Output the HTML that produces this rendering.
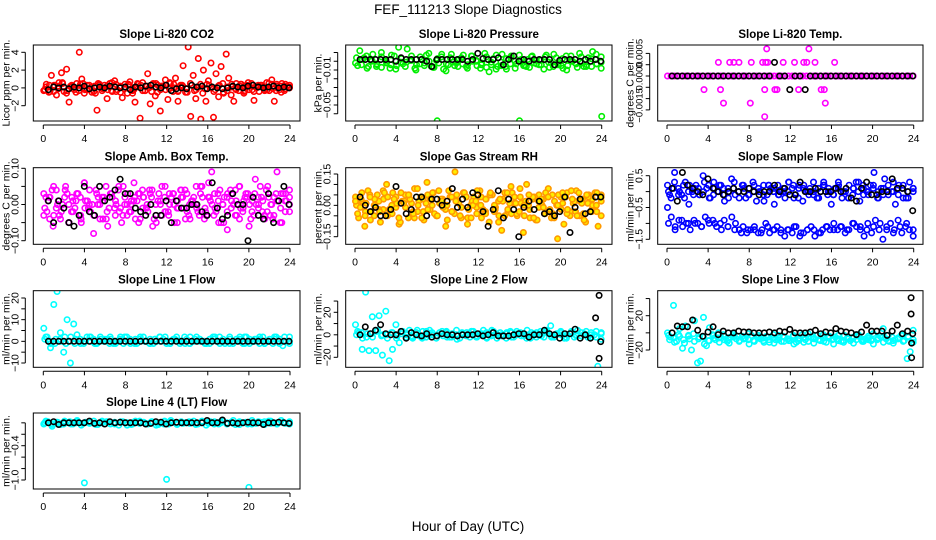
<!DOCTYPE html>
<html><head><meta charset="utf-8"><style>
html,body{margin:0;padding:0;background:#fff;}
svg{display:block;font-family:"Liberation Sans",Arial,sans-serif;}
</style></head><body>
<svg id="chart" width="936" height="540" viewBox="0 0 936 540" xmlns="http://www.w3.org/2000/svg">
<rect width="936" height="540" fill="#fff"/>
<text x="468" y="14" text-anchor="middle" font-size="13.5">FEF_111213  Slope Diagnostics</text>
<text x="468" y="531" text-anchor="middle" font-size="13.5">Hour of Day (UTC)</text>
</svg>
<script>
// ---------- data ----------
const xTicks = [0,4,8,12,16,20,24];

const co2Band = [-0.3,0.4,-0.5,1.4,0.2,-0.8,0.6,1.7,-0.4,2.1,-1.6,0.3,-0.2,0.5,4.0,1.0,-0.6,0.3,-0.1,-0.5,0.2,-2.5,0.4,-0.3,0.3,-1.2,0.5,-0.4,0.8,-0.2,0.1,-1.1,0.4,-0.6,0.7,-0.3,-1.6,0.5,-3.4,0.6,-0.3,1.6,-1.8,0.4,-0.9,0.3,-2.6,0.2,0.9,-1.3,0.5,-0.4,1.1,-1.5,0.3,2.5,-0.5,4.6,-3.2,1.4,-1.2,3.3,-3.5,2.0,-1.5,0.8,2.8,-3.3,1.6,-1.0,2.4,-0.6,3.8,1.1,-0.8,-1.5,0.5,-0.3,0.4,-0.6,0.3,-0.2,0.5,-1.4,0.2,-0.4,0.3,-0.2,0.6,-0.3,0.9,-1.5,0.4,-0.2,0.5,-0.3,0.2,0.1];
const co2Band2 = [-0.2,0.3,-0.4,0.2,0.5,-0.3,0.1,-0.5,0.4,-0.2,0.3,-0.4,0.5,-0.1,0.2,-0.3,0.4,-0.5,0.1,0.3,-0.2,0.4,-0.3,0.2,-0.4,0.5,-0.2,0.3,-0.1,0.4,-0.3,0.2,-0.5,0.3,-0.2,0.4,-0.1,0.3,-0.4,0.2,0.5,-0.3,0.1,-0.2,0.4,-0.3,0.2,-0.4,0.3,0.1,-0.2,0.4,-0.3,0.2,-0.1,0.3];
const co2Band3 = [0.1,-0.4,0.3,-0.1,0.6,-0.6,0.2,0.0,-0.3,0.5,-0.2,0.1,-0.6,0.3,0.0,-0.2,0.6,-0.4,0.2,-0.1,0.4,-0.6,0.1,0.3,-0.3,0.0,0.5,-0.5,0.2,-0.2,0.6,0.0,-0.4,0.3,-0.1,0.5,-0.3,0.1,-0.6,0.4,0.0,-0.2,0.3,-0.5,0.1,0.4,-0.1,0.2,-0.4,0.6,-0.2,0.0,0.3,-0.3,0.5,-0.1,0.2,-0.5,0.4,0.0];
const co2Black = [-0.2,0.1,0,0.1,-0.1,0.1,0,0.2,-0.1,0,0.1,0,0.2,0.1,0,0.1,-0.2,0.1,0,0.2,0.3,0.1,0,0.3,-0.3,-0.1,0,-0.1,0.3,0.1,0.2,-0.1,0.1,0,-0.1,0,0.2,0.1,0,0.2,0.3,0.1,0,0.1,0.2,0,0.1,0];

const presBand = [-0.002,0.012,0.004,-0.006,0.008,-0.004,0.01,0.002,-0.008,0.006,0.016,-0.003,0.014,0.001,-0.01,0.005,-0.002,0.009,-0.007,0.003,0.008,-0.011,0.004,-0.005,0.002,0.007,-0.004,0.006,0.001,-0.008,0.009,-0.012,0.003,-0.006,0.008,-0.009,0.004,0.0,0.007,-0.005,0.002,0.006,-0.003,0.001,0.005,-0.007,0.008,-0.004,0.003,-0.01,0.006,-0.002,0.009,-0.006,0.004,0.011,-0.003,0.005];
const presBand2 = [0.004,-0.004,0.006,0.0,-0.006,0.005,-0.002,0.007,-0.005,0.003,-0.001,0.006,-0.004,0.002,0.007,-0.006,0.001,0.005,-0.003,0.008,-0.002,0.004,-0.006,0.006,0.0,-0.004,0.005,-0.001,0.007,-0.005,0.003,0.006,-0.003,0.002,-0.006,0.005,0.001,-0.004,0.007,-0.002,0.004,-0.005,0.006,0.0,-0.003,0.005,-0.006,0.003,0.008,-0.001];
const presBand3 = [-0.005,0.002,-0.008,0.001,-0.003,-0.007,0.0,-0.004,-0.009,-0.001,-0.006,0.001,-0.008,-0.003,-0.005,0.0,-0.007,-0.002,-0.009,-0.004,-0.001,-0.006,-0.003,-0.008,0.0,-0.005,-0.002,-0.007,-0.004,-0.009,-0.001,-0.006,-0.003,-0.008,0.0,-0.005,-0.007,-0.002,-0.004,-0.009,-0.001,-0.006,-0.003,-0.008,-0.005,0.0,-0.007,-0.002,-0.004,-0.006,-0.003,-0.008];
const presBlack = [0.002,0.002,0.002,0.002,0.002,0.002,0.002,0.0,0.004,0.002,0.002,0.002,0.002,0.0,-0.006,0.002,0.002,0.002,0.002,0.002,0.002,0.0,0.002,0.009,0.003,0.002,0.002,0.004,-0.004,0.002,0.006,0.0,0.002,0.0,0.002,0.002,0.002,0.002,-0.004,0.001,0.002,0.002,0.002,0.0,0.002,0.0,0.002,0.0];
const presOutH = [8,16,24];
const presOutV = [-0.068,-0.068,-0.063];

const tempBand = [0,0,0,0,0,0,0,0,0,0,0,0,0,0,0,0,0,0,0,0,0,0,0,0,0,0,0,0,0,0,0,0,0,0,0,0,0,0,0,0,0,0,0,0,0,0,0,0,0,0,0,0,0,0,0,0,0,0,0,0,0,0,0,0,0,0,0,0,0,0];
const tempOutH = [3.6,5.0,5.2,5.5,6.1,6.5,7.0,8.1,8.2,9.3,9.5,9.5,9.6,9.7,9.8,10.5,10.7,11.3,12.4,12.8,13.3,13.6,13.8,14.4,15.0,15.3,15.4,16.3];
const tempOutV = [-0.0006,0.0006,-0.0006,-0.0012,0.0006,0.0006,0.0006,-0.0012,0.0006,0.0006,-0.0006,-0.0018,0.0006,0.0012,0.0006,-0.0006,-0.0006,0.0006,0.0006,-0.0006,0.0006,0.0006,0.0012,0.0006,-0.0006,-0.0006,-0.0012,0.0006];
const tempBlack = [0,0,0,0,0,0,0,0,0,0,0,0,0,0,0,0,0,0,0,0,0.0006,0,0,-0.0006,0,0,-0.0006,0,0,0,0,0,0,0,0,0,0,0,0,0,0,0,0,0,0,0,0,0];

const ambBand = [0.03,-0.02,0.02,-0.06,0.04,-0.03,0.0,0.05,-0.05,0.02,-0.01,0.03,-0.04,0.06,0.01,-0.02,-0.08,0.03,0.0,-0.04,0.05,-0.01,0.02,-0.03,0.04,-0.05,0.0,0.03,-0.02,0.06,0.01,-0.04,0.02,-0.01,0.04,-0.06,0.0,0.03,-0.03,0.05,-0.02,0.02,-0.05,0.01,0.04,-0.01,0.03,-0.04,0.0,0.05,-0.03,0.02,-0.02,0.06,0.09,-0.01,0.03,-0.05,0.02,-0.07,0.04,0.0,-0.03,0.05,-0.02,0.03,-0.06,0.01,0.07,-0.01,0.02,-0.04,0.05,0.0,-0.03,0.09,-0.05,0.03,0.01,-0.02];
const ambBand2 = [-0.01,0.02,-0.03,0.01,0.0,0.03,-0.02,0.01,0.02,-0.01,0.0,-0.03,0.02,0.01,-0.02,0.03,0.0,-0.01,0.02,-0.02,0.01,0.03,-0.01,0.0,0.02,-0.03,0.01,-0.02,0.03,0.0,-0.01,0.02,-0.02,0.01,0.0,0.03,-0.01,0.02,-0.03,0.01,0.0,-0.02,0.03,0.01,-0.01,0.02,0.0,-0.03,0.02,0.01,-0.02,0.0,0.03,-0.01,0.01,0.02];
const ambBand3 = [0.02,-0.04,0.05,0.0,-0.02,0.04,-0.05,0.01,0.03,-0.03,0.06,-0.01,0.0,0.04,-0.04,0.02,-0.06,0.03,0.01,-0.02,0.05,-0.03,0.0,0.02,-0.05,0.04,-0.01,0.03,-0.04,0.01,0.05,-0.02,0.0,0.03,-0.05,0.02,0.04,-0.03,0.01,-0.01,0.05,-0.04,0.02,0.0,-0.02,0.04,-0.05,0.03,0.01,-0.03,0.05,-0.01,0.02,-0.04,0.03,0.0,-0.02,0.04,-0.03,0.02,0.01,-0.05,0.03,0.0];
const ambBand4 = [-0.03,0.01,0.04,-0.01,-0.04,0.02,0.0,-0.02,0.03,-0.05,0.01,0.04,-0.03,0.0,0.02,-0.04,0.03,-0.01,0.05,-0.03,0.0,0.01,-0.04,0.03,0.02,-0.02,0.04,-0.05,0.0,0.02,-0.03,0.03,-0.01,0.04,-0.04,0.0,0.02,-0.02,0.05,-0.03,0.01,0.03,-0.05,0.0,0.02,-0.01,0.04,-0.04,0.01,0.03,-0.02,0.0,0.05,-0.03,0.02,-0.04,0.01,0.03,-0.02,0.04];
const ambBlack = [0.01,-0.05,0.01,-0.01,-0.05,-0.06,-0.03,0.05,-0.02,-0.03,0.05,0.01,0.02,0.04,0.07,0.03,0.03,-0.01,-0.02,-0.03,0.0,-0.03,-0.03,0.01,-0.05,0.01,-0.01,-0.01,0.0,0.0,-0.02,-0.03,0.06,-0.01,-0.04,-0.03,0.03,0.0,0.0,-0.1,0.02,-0.03,-0.04,0.03,-0.05,0.01,0.05,0.0];

const rhBand = [0.04,-0.06,0.02,-0.1,0.07,-0.03,0.0,0.05,-0.08,0.03,0.1,-0.04,0.06,-0.01,-0.09,0.02,0.05,-0.06,0.01,0.08,-0.03,0.04,-0.07,0.11,-0.02,0.06,-0.05,0.01,0.03,-0.1,0.07,-0.03,0.16,0.02,-0.06,0.05,-0.09,0.0,0.04,-0.04,0.07,-0.02,0.03,-0.08,0.05,-0.01,0.02,-0.12,0.06,-0.03,0.09,0.01,-0.05,0.04,-0.13,0.1,-0.02,0.03,-0.07,0.05,0.0,-0.04,0.08,-0.06,0.02,-0.16,0.04,-0.09,0.06,-0.03,0.01,0.07,-0.05,0.03,-0.08,0.05,-0.02,0.06,-0.1,0.02];
const rhBand2 = [0.0,0.03,-0.03,0.05,-0.05,0.02,-0.02,0.04,-0.04,0.01,0.06,-0.01,0.03,-0.06,0.02,-0.03,0.05,0.0,-0.05,0.03,-0.02,0.04,-0.04,0.01,0.06,-0.06,0.02,-0.01,0.04,-0.03,0.05,0.0,-0.05,0.03,-0.02,0.06,-0.04,0.01,0.02,-0.06,0.04,-0.01,0.03,-0.03,0.05,0.0,-0.02,0.04,-0.05,0.02,0.06,-0.04,0.01,0.03,-0.03,0.05];
const rhBand3 = [-0.04,0.06,0.01,-0.07,0.03,-0.02,0.07,-0.05,0.0,0.04,-0.08,0.02,0.05,-0.03,0.08,-0.06,0.01,0.03,-0.04,0.07,-0.01,-0.07,0.04,0.02,-0.05,0.06,-0.02,0.0,0.07,-0.06,0.03,0.05,-0.03,-0.08,0.02,0.06,-0.04,0.01,0.08,-0.05,0.0,0.04,-0.07,0.03,0.06,-0.02,-0.06,0.05,0.01,-0.04,0.07,-0.03,0.02,-0.07,0.04,0.0,0.06,-0.05];
const rhBand4 = [0.02,-0.01,-0.05,0.04,0.0,-0.03,0.06,-0.02,0.03,-0.06,0.01,0.05,-0.04,0.0,0.03,-0.02,0.06,-0.05,0.02,0.0,-0.03,0.05,-0.01,0.04,-0.06,0.02,0.0,-0.04,0.06,-0.02,0.03,-0.05,0.01,0.04,-0.03,0.0,0.05,-0.06,0.02,-0.01,0.04,-0.04,0.0,0.06,-0.02,0.03,-0.05,0.01,0.05,-0.03,0.0,0.04];
const rhBlack = [0.04,0.0,-0.03,-0.01,-0.05,-0.05,-0.02,0.09,0.01,-0.04,-0.02,0.04,0.04,-0.05,0.03,0.03,0.0,0.02,0.08,-0.01,0.03,-0.01,0.06,0.05,-0.03,-0.1,-0.02,0.07,-0.06,0.03,-0.02,-0.15,-0.01,0.02,-0.02,0.02,-0.04,-0.03,-0.05,-0.03,0.04,-0.13,-0.01,0.03,-0.04,-0.03,0.04,0.04];

const flowUpper = [0.2,-0.2,0.6,0.1,-0.1,0.3,-0.4,0.0,0.2,-0.1,0.5,0.1,-0.2,0.3,0.0,0.2,-0.3,0.1,0.4,-0.1,0.0,0.2,-0.2,0.1,0.3,-0.3,0.0,0.2,-0.1,0.1,-0.4,0.2,0.0,-0.2,0.3,0.1,-0.1,0.2,-0.3,0.0,0.1,0.3,-0.2,0.0,0.2,-0.1,-0.4,0.1,0.3,-0.2,0.0,0.2,-0.1,0.3,-0.3,0.1,0.0,0.2,0.6,-0.2,0.1,0.4,-0.1,0.0,-0.4,0.2,0.1,-0.2,0.3,0.1];
const flowUpper2 = [0.0,0.1,-0.1,0.2,0.0,-0.1,0.1,0.0,0.2,-0.1,0.0,0.1,-0.2,0.1,0.0,0.2,-0.1,0.0,0.1,-0.1,0.2,0.0,-0.1,0.1,0.0,0.2,-0.2,0.1,0.0,-0.1,0.1,0.2,0.0,-0.1,0.1,0.0,-0.2,0.1,0.0,0.2,-0.1,0.1,0.0,-0.1,0.2,0.0,0.1,-0.2,0.0,0.1];
const flowUpper3 = [-0.1,0.3,0.0,-0.2,0.2,0.1,-0.1,0.3,-0.2,0.1,0.2,-0.1,0.0,0.3,-0.2,0.1,-0.1,0.2,0.0,-0.3,0.2,0.1,-0.1,0.0,0.3,-0.2,0.1,0.2,-0.1,0.0,-0.2,0.3,0.1,-0.1,0.2,0.0,-0.2,0.1,0.3,-0.1,0.0,0.2,-0.2,0.1,0.0,0.3,-0.1,0.2,-0.2,0.0];
const flowLower = [-0.5,-0.8,-1.2,-0.9,-1.1,-1.0,-1.2,-0.9,-1.0,-1.1,-0.8,-1.0,-0.9,-1.1,-1.0,-0.9,-1.1,-0.8,-1.0,-1.2,-1.1,-1.3,-1.2,-1.1,-1.3,-1.2,-1.0,-1.3,-1.2,-1.1,-1.2,-1.4,-1.2,-1.3,-1.1,-1.4,-1.3,-1.2,-1.1,-1.4,-1.3,-1.2,-1.1,-1.2,-1.0,-1.2,-1.1,-1.3,-1.2,-1.0,-1.1,-1.2,-1.4,-1.0,-1.3,-0.9,-1.2,-1.5,-1.1,-1.0,-1.2,-0.9,-1.3,-1.1,-1.2,-1.4];
const flowLower2 = [-1.0,-1.1,-0.9,-1.0,-1.0,-1.1,-0.9,-1.0,-1.2,-1.1,-1.2,-1.3,-1.2,-1.2,-1.3,-1.1,-1.2,-1.3,-1.2,-1.1,-1.3,-1.2,-1.2,-1.3,-1.1,-1.2,-1.1,-1.2,-1.0,-1.1,-1.2,-1.1,-1.0,-1.2,-1.3,-1.1,-1.0,-1.2];
const flowBlack = [0.1,-0.3,0.6,0.2,0.1,0.0,-0.1,0.4,0.1,0.0,-0.1,0.0,0.1,0.0,0.0,0.1,0.0,-0.1,0.0,0.0,0.2,0.0,0.1,-0.1,-0.1,0.3,0.0,0.0,0.1,0.0,0.0,0.0,0.1,0.0,0.1,-0.2,-0.3,0.1,0.3,-0.1,-0.1,0.0,0.0,0.4,0.1,0.1,0.0,-0.6];

const l1Band = [6,2,-3,17,23,4,-5,10,-10,8,3,1,-1,2,0,1,-1,2,0,1,2,-1,0,1,-1,2,1,0,-1,1,2,0,1,-1,0,2,1,-1,0,1,2,-1,0,1,-1,0,2,1,0,-1,1,2,0,-1,1,0,2,-1,1,0,-1,2,1,0,1,-1,2,0,1,-1,2,1,-2,0,2];
const l1Band2 = [1,0,-1,1,2,0,-1,1,0,2,-1,0,1,-1,0,1,2,0,-1,1,0,-1,1,2,0,-1,1,0,2,-1,0,1,0,-1,1,2,0,-1,0,1,2,-1,0,1,-1,0,2,1,0,-1];
const l1Band3 = [2,-1,1,0,-1,2,1,-1,0,2,-1,1,0,1,-1,2,0,-1,1,2,0,-1,1,0,2,-1,1,0,-1,2,1,0,-1,1,2,0,-1,1,0,2,-1,0,1,2,-1,0,1,-1,2,0];
const l1Black = [0,0,0,0,0,0,0,0,0,0,0,0,0,0,0,0,0,0,0,0,0,0,0,0,0,0,0,0,0,0,0,0,0,0,0,0,0,0,0,0,0,0,0,0,0,0,0,0];

const l2Band = [9,2,-13,38,-14,16,-14,17,-18,21,-23,-13,9,-7,3,-2,4,-3,2,-1,3,-2,4,0,-3,2,-1,3,-2,1,4,-3,0,2,-2,3,-1,1,4,-2,0,3,-3,2,-1,1,3,-2,0,2,-1,4,-3,1,0,3,-2,2,8,-2,1,3,-3,0,2,-2,4,-1,1,-2,2,0,-28,2];
const l2Band2 = [0,2,-2,1,3,-1,0,2,-3,1,0,-1,2,-2,3,0,-1,1,2,-2,0,1,-1,3,-2,0,2,-1,1,0,-3,2,1,-1,0,2,-2,1,3,-1,0,2,-2,1,0,-1,3,0,-2,1];
const l2Band3 = [3,-3,1,-2,4,0,-3,2,-1,3,1,-2,4,-3,0,2,-1,3,-2,1,-4,2,0,3,-2,1,-3,4,0,-1,2,-2,3,1,-3,0,2,-1,4,-2,1,0,-3,3,-1,2,0,-2,3,-4];
const l2Black = [0,7,1,4,9,1,0,0,3,-3,2,0,-1,1,-2,-1,1,0,0,-1,0,0,0,1,-1,0,2,-1,-1,-1,0,1,1,-2,0,0,4,1,0,-3,1,1,5,-3,0,-3,15,-6];
const l2OutH = [23.75,23.75];
const l2OutV = [35,-21];

const l3Band = [0,-5,32,-10,5,-18,8,-3,-20,14,-35,-33,18,-15,6,-2,-8,0,-6,-4,-10,-5,-2,-7,-9,-4,-6,-8,-3,-10,-5,-7,-9,-4,-11,-6,-8,-3,-10,-5,-7,-9,-4,-11,-6,-2,-8,-10,-5,-7,-3,-9,-6,-11,-4,-8,-5,-7,-10,-3,-6,-9,-5,-8,-4,-10,-7,-6,-9,-3,-8,-4,5,-7,-10,-5,-8,-6,-3,-9,-30,-22,3];
const l3Band2 = [-3,-6,-2,-8,-4,-1,-7,-5,-9,-3,-6,-2,-8,-5,-4,-7,-1,-9,-3,-6,-5,-2,-8,-4,-7,-3,-9,-6,-1,-5,-8,-2,-4,-7,-3,-9,-5,-6,-2,-8,-4,-1,-7,-5,-3,-9,-6,-2,-4,-8];
const l3Band3 = [-8,-11,-4,-12,-7,-10,-5,-13,-9,-6,-11,-8,-12,-4,-10,-7,-13,-9,-5,-11,-8,-12,-6,-10,-9,-13,-7,-11,-5,-12,-8,-10,-6,-13,-9,-11,-7,-12,-4,-10,-8,-13,-6,-11,-9,-12,-7,-10,-5,-11];
const l3Black = [0,8,7,7,15,3,-4,1,7,-2,2,0,0,2,1,1,0,0,0,1,0,2,1,4,0,0,0,1,3,-1,1,0,5,2,1,0,-2,1,9,2,2,2,-3,2,9,-1,2,-1];
const l3OutH = [23.75,23.75,23.8,23.8];
const l3OutV = [41,22,-12,-29];

const l4Band = [-0.02,0.02,-0.06,0.01,-0.03,0.03,0.0,-0.02,0.02,-0.04,0.01,-0.01,0.03,-0.03,0.0,0.02,-0.02,0.01,-0.04,0.02,0.0,-0.03,0.03,-0.01,0.01,-0.02,0.02,-0.04,0.0,0.03,-0.02,0.01,-0.03,0.02,0.0,-0.01,0.03,-0.02,0.01,-0.04,0.02,0.0,-0.02,0.03,-0.01,0.01,-0.03,0.02,0.0,-0.02,0.04,-0.01,0.01,-0.03,0.03,0.0,-0.02,0.04,-0.01,0.02];
const l4Band2 = [0.0,-0.01,0.01,-0.02,0.02,0.0,-0.01,0.01,-0.02,0.0,0.02,-0.01,0.01,0.0,-0.02,0.01,-0.01,0.02,0.0,-0.02,0.01,0.0,-0.01,0.02,-0.01,0.0,0.01,-0.02,0.02,0.0,-0.01,0.01,0.0,-0.02,0.01,0.02,-0.01,0.0,0.01,-0.02];
const l4Band3 = [0.03,-0.03,0.0,0.02,-0.02,0.04,-0.01,0.01,-0.03,0.03,0.0,-0.02,0.02,-0.04,0.01,0.03,-0.01,0.0,-0.03,0.02,0.04,-0.02,0.0,0.01,-0.03,0.03,-0.01,0.02,0.0,-0.02,0.04,-0.03,0.01,0.0,0.02,-0.01,0.03,-0.02,0.0,0.01];
const l4Black = [0.0,0.02,-0.03,0.0,0.0,0.0,0.0,0.0,0.03,-0.01,0.0,-0.02,0.02,0.0,0.01,0.0,0.0,0.0,0.0,-0.02,-0.01,0.02,0.01,-0.02,0.0,0.01,0.0,0.0,0.0,0.0,0.0,0.04,0.0,0.0,0.05,-0.01,0.0,-0.01,0.0,0.01,0.0,0.0,-0.03,0.0,0.0,0.01,0.0,-0.01];
const l4OutH = [4,12,20];
const l4OutV = [-1.05,-0.99,-1.13];

// ---------- layout ----------
const cols = [{bx0:33.3,bx1:300,zero:43.3},{bx0:345.7,bx1:612,zero:355},{bx0:657.7,bx1:923,zero:667}];
const rows = [{y0:45,y1:121},{y0:167.7,y1:244.3},{y0:290.7,y1:367.3},{y0:413,y1:489}];
const HPX = (290-43.3)/24;

const panels = [
 {key:'co2',title:'Slope Li-820 CO2',ylab:'Licor ppm per min.',r:0,c:0,cal:[4,52.3,-2,105.7],ticks:[-2,0,2,4],labs:[[-2,'\u22122'],[0,'0'],[2,'2'],[4,'4']],col:'#ff0000',fill:'none',bands:[co2Band,co2Band2,co2Band3],blk:co2Black},
 {key:'pressure',title:'Slope Li-820 Pressure',ylab:'kPa per min.',r:0,c:1,cal:[-0.01,70,-0.05,105],ticks:[0.01,0,-0.01,-0.02,-0.03,-0.04,-0.05,-0.06],labs:[[-0.01,'\u22120.01'],[-0.05,'\u22120.05']],col:'#00ee00',fill:'none',bands:[presBand,presBand2,presBand3],blk:presBlack,outH:presOutH,outV:presOutV},
 {key:'temp',title:'Slope Li-820 Temp.',ylab:'degrees C per min.',r:0,c:2,cal:[0,76,0.0005,64.7],ticks:[0.001,0.0005,0,-0.0005,-0.001,-0.0015],labs:[[0.001,'0.0005'],[0,'0.0000'],[-0.0013,'\u22120.0015']],col:'#ff00ff',fill:'none',bands:[tempBand],blk:tempBlack,outH:tempOutH,outV:tempOutV},
 {key:'amb',title:'Slope Amb. Box Temp.',ylab:'degrees C per min.',r:1,c:0,cal:[0.1,168.3,-0.1,240.7],ticks:[-0.1,-0.05,0,0.05,0.1],labs:[[-0.1,'\u22120.10'],[0,'0.00'],[0.1,'0.10']],col:'#ff00ff',fill:'none',bands:[ambBand,ambBand2,ambBand3,ambBand4],blk:ambBlack},
 {key:'rh',title:'Slope Gas Stream RH',ylab:'percent per min.',r:1,c:1,cal:[0.15,174,-0.15,236.7],ticks:[-0.15,-0.1,-0.05,0,0.05,0.1,0.15],labs:[[-0.15,'\u22120.15'],[0,'0.00'],[0.15,'0.15']],col:'#ff9900',fill:'#ffee00',bands:[rhBand,rhBand2,rhBand3,rhBand4],blk:rhBlack},
 {key:'sampleflow',title:'Slope Sample Flow',ylab:'ml/min per min.',r:1,c:2,cal:[0.5,175.7,-1.5,239.3],ticks:[-1.5,-1,-0.5,0,0.5],labs:[[-1.5,'\u22121.5'],[-0.5,'\u22120.5'],[0.5,'0.5']],col:'#0000ff',fill:'none',bands:[flowUpper,flowUpper2,flowUpper3,flowLower,flowLower2],blk:flowBlack},
 {key:'line1',title:'Slope Line 1 Flow',ylab:'ml/min per min.',r:2,c:0,cal:[20,298,-10,363],ticks:[-10,-5,0,5,10,15,20],labs:[[-10,'\u221210'],[0,'0'],[10,'10'],[20,'20']],col:'#00ffff',fill:'none',bands:[l1Band,l1Band2,l1Band3],blk:l1Black},
 {key:'line2',title:'Slope Line 2 Flow',ylab:'ml/min per min.',r:2,c:1,cal:[20,312.3,-20,357.3],ticks:[-20,-10,0,10,20,30],labs:[[-20,'\u221220'],[0,'0'],[20,'20']],col:'#00ffff',fill:'none',bands:[l2Band,l2Band2,l2Band3],blk:l2Black,boutH:l2OutH,boutV:l2OutV},
 {key:'line3',title:'Slope Line 3 Flow',ylab:'ml/min per min.',r:2,c:2,cal:[20,315.7,-20,350],ticks:[-20,0,20,40],labs:[[-20,'\u221220'],[20,'20']],col:'#00ffff',fill:'none',bands:[l3Band,l3Band2,l3Band3],blk:l3Black,boutH:l3OutH,boutV:l3OutV},
 {key:'line4',title:'Slope Line 4 (LT) Flow',ylab:'ml/min per min.',r:3,c:0,cal:[-0.4,445.7,-1.0,480],ticks:[0,-0.2,-0.4,-0.6,-0.8,-1.0],labs:[[-0.4,'\u22120.4'],[-1.0,'\u22121.0']],col:'#00ffff',fill:'none',bands:[l4Band,l4Band2,l4Band3],blk:l4Black,outH:l4OutH,outV:l4OutV}
];

const NS='http://www.w3.org/2000/svg';
const svg=document.getElementById('chart');
function mk(tag,attrs,parent){const e=document.createElementNS(NS,tag);for(const k in attrs)e.setAttribute(k,attrs[k]);(parent||svg).appendChild(e);return e;}

panels.forEach(p=>{
  const C=cols[p.c],R=rows[p.r];
  const g=mk('g',{});
  
  
  const [v0,p0,v1,p1]=p.cal;
  const ys=v=>p0+(v-v0)*(p1-p0)/(v1-v0);
  const xs=h=>C.zero+h*HPX;
  const cid='clip-'+p.key;
  const cp=mk('clipPath',{id:cid},g);
  mk('rect',{x:C.bx0,y:R.y0,width:C.bx1-C.bx0,height:R.y1-R.y0},cp);
  const pts=mk('g',{'clip-path':'url(#'+cid+')'},g);
  
  
  function dot(h,v,stroke,fill,name){
    const c=mk('circle',{cx:xs(h).toFixed(1),cy:ys(v).toFixed(1),r:2.7,fill:fill,stroke:stroke,'stroke-width':1.6},pts);
    
    
  }
  p.bands.forEach((arr,bi)=>{
    const off=(bi%3)*0.1+0.05;
    arr.forEach((v,i)=>dot(off+i*(23.95-off)/(arr.length-1),v,p.col,p.fill,p.key+'-point'));
  });
  if(p.outH) p.outH.forEach((h,i)=>dot(h,p.outV[i],p.col,p.fill,p.key+'-outlier'));
  p.blk.forEach((v,i)=>dot(0.5+i*0.5*(23.4/23.5),v,'#000','none',p.key+'-mean-point'));
  if(p.boutH) p.boutH.forEach((h,i)=>dot(h,p.boutV[i],'#000','none',p.key+'-mean-outlier'));
  const box=mk('rect',{x:C.bx0,y:R.y0,width:C.bx1-C.bx0,height:R.y1-R.y0,fill:'none',stroke:'#000','stroke-width':1},g);
  
  
  const xa=mk('g',{},g);
  
  
  mk('line',{x1:xs(0),x2:xs(24),y1:R.y1+4,y2:R.y1+4,stroke:'#000'},xa);
  xTicks.forEach(t=>{
    mk('line',{x1:xs(t),x2:xs(t),y1:R.y1+4,y2:R.y1+8,stroke:'#000'},xa);
    const tx=mk('text',{x:xs(t),y:R.y1+21,'text-anchor':'middle','font-size':'10.5'},xa);
    tx.textContent=t;
  });
  const ya=mk('g',{},g);
  
  
  const ax=C.bx0-8;
  const tv=p.ticks.map(ys);
  mk('line',{x1:ax,x2:ax,y1:Math.min(...tv),y2:Math.max(...tv),stroke:'#000'},ya);
  p.ticks.forEach(t=>mk('line',{x1:ax-4,x2:ax,y1:ys(t),y2:ys(t),stroke:'#000'},ya));
  p.labs.forEach(([v,s])=>{
    const yy=ys(v);
    const tx=mk('text',{x:ax-7,y:yy,'text-anchor':'middle','font-size':p.key==='temp'?'9.5':'10.5',transform:`rotate(-90 ${ax-7} ${yy})`},ya);
    tx.textContent=s;
  });
  const ym=(R.y0+R.y1)/2, lx=C.bx0-24;
  const yl=mk('text',{x:lx,y:ym,'text-anchor':'middle','font-size':'10.5',transform:`rotate(-90 ${lx} ${ym})`},g);
  yl.textContent=p.ylab;
  
  
  const tt=mk('text',{x:(C.bx0+C.bx1)/2,y:R.y0-7,'text-anchor':'middle','font-size':'11.5','font-weight':'bold'},g);
  tt.textContent=p.title;
  
  
});
</script>
</body></html>
